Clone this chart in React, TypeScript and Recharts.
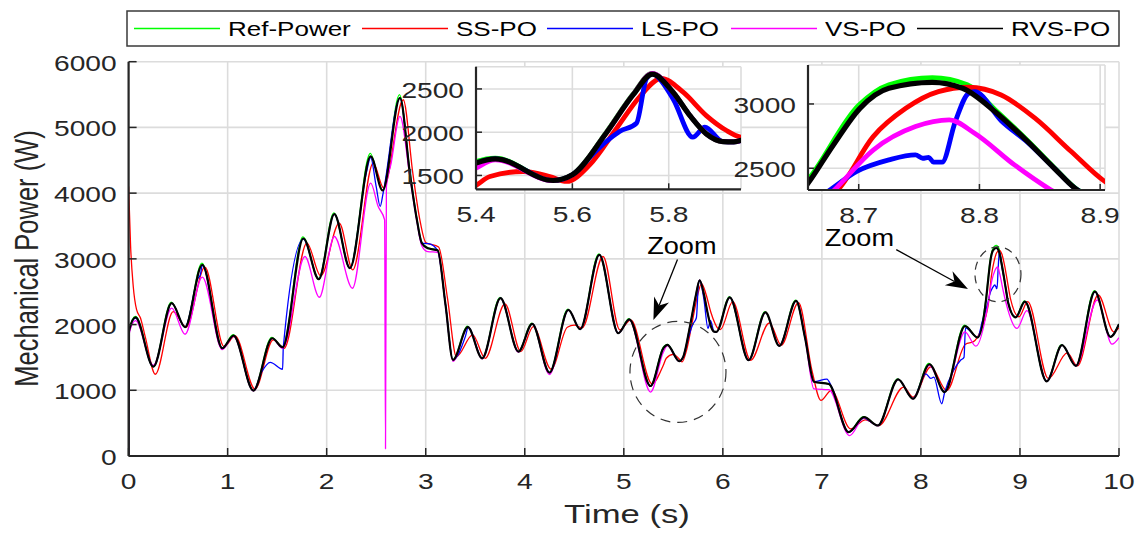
import React from "react";
import {
  LineChart,
  Line,
  XAxis,
  YAxis,
  CartesianGrid,
  ReferenceDot,
  ReferenceLine,
} from "recharts";

type Pt = [number, number];

// time (s), mechanical power (W)
const refPower: Pt[] = [
  [0, 0], [0.004, 1920], [0.07, 2125], [0.25, 1360], [0.43, 2340], [0.57, 1960], [0.74, 2935],
  [0.946, 1640], [1.055, 1845], [1.26, 995], [1.445, 1805], [1.555, 1660], [1.76, 3335], [1.92, 2700],
  [2.072, 3700], [2.235, 2860], [2.44, 4605], [2.565, 4050], [2.735, 5500], [2.84, 4330], [2.91, 3620],
  [2.96, 3250], [3.02, 3170], [3.12, 3135], [3.2, 2300], [3.275, 1462], [3.42, 1975], [3.57, 1487],
  [3.75, 2415], [3.936, 1589], [4.07, 2020], [4.25, 1269], [4.435, 2235], [4.56, 1929], [4.748, 3075],
  [4.944, 1868], [5.05, 2090], [5.27, 1065], [5.4, 1660], [5.44, 1700], [5.56, 1442], [5.6, 1510],
  [5.67, 1995], [5.726, 2440], [5.765, 2680], [5.809, 2462], [5.844, 2192], [5.878, 1981], [5.912, 1892],
  [5.935, 1888], [6.065, 2425], [6.26, 1457], [6.425, 2195], [6.57, 1676], [6.735, 2370], [6.83, 1800],
  [6.92, 1130], [7.07, 1095], [7.27, 362], [7.42, 600], [7.565, 464], [7.765, 1175], [7.92, 871],
  [8.08, 1410], [8.24, 973], [8.44, 1990], [8.573, 1803], [8.658, 2409], [8.7, 2990], [8.725, 3150],
  [8.761, 3205], [8.79, 3150], [8.813, 2955], [8.84, 2715], [8.862, 2505], [8.881, 2335], [8.956, 2109],
  [9.045, 2360], [9.27, 1136], [9.42, 1695], [9.565, 1370], [9.752, 2515], [9.913, 1814], [10, 2007],
];

const ssPo: Pt[] = [
  [0, 4100], [0.02, 3200], [0.047, 2580], [0.08, 2230], [0.12, 2100], [0.17, 1800], [0.27, 1244],
  [0.45, 2198], [0.58, 1959], [0.77, 2873], [0.963, 1665], [1.075, 1827], [1.276, 1020], [1.46, 1766],
  [1.57, 1640], [1.8, 3239], [1.94, 2741], [2.127, 3544], [2.263, 2832], [2.47, 4457], [2.575, 4080],
  [2.773, 5421], [2.87, 4300], [2.94, 3600], [3.0, 3250], [3.13, 3180], [3.22, 2400], [3.31, 1513],
  [3.474, 1843], [3.6, 1487], [3.8, 2315], [3.96, 1589], [4.086, 1970], [4.267, 1320], [4.43, 1960],
  [4.5, 1990], [4.58, 1950], [4.79, 3036], [4.96, 1919], [5.07, 2071], [5.285, 1100], [5.4, 1385],
  [5.429, 1488], [5.498, 1546], [5.553, 1488], [5.588, 1431], [5.636, 1623], [5.692, 2046], [5.74, 2412],
  [5.785, 2623], [5.83, 2462], [5.878, 2192], [5.92, 2019], [5.949, 1942], [5.975, 1925], [6.1, 2348],
  [6.28, 1457], [6.47, 2027], [6.59, 1686], [6.764, 2333], [6.9, 1300], [6.99, 846], [7.095, 998],
  [7.29, 413], [7.44, 550], [7.575, 464], [7.825, 1049], [7.92, 897], [8.1, 1355], [8.26, 998],
  [8.45, 1700], [8.53, 1740], [8.6, 1900], [8.684, 2345], [8.712, 2746], [8.739, 2966], [8.766, 3096],
  [8.791, 3130], [8.818, 3070], [8.846, 2889], [8.876, 2630], [8.904, 2396], [8.99, 2119], [9.078, 2348],
  [9.287, 1177], [9.478, 1569], [9.58, 1370], [9.79, 2450], [9.948, 1890], [10, 1950],
];

const lsPo: Pt[] = [
  [0, 0], [0.004, 1900], [0.07, 2100], [0.25, 1360], [0.435, 2325], [0.57, 1960], [0.7, 2700],
  [0.725, 2760], [0.744, 2905], [0.946, 1640], [1.06, 1832], [1.26, 995], [1.345, 1284], [1.43, 1426],
  [1.555, 1320], [1.562, 1655], [1.765, 3300], [1.92, 2690], [2.077, 3680], [2.235, 2858], [2.4, 4305],
  [2.444, 4540], [2.5, 4100], [2.54, 3800], [2.57, 4000], [2.74, 5450], [2.84, 4300], [2.91, 3600],
  [2.96, 3240], [3.03, 3230], [3.12, 3130], [3.2, 2300], [3.275, 1462], [3.4, 1817], [3.43, 1960],
  [3.57, 1487], [3.755, 2401], [3.936, 1589], [4.075, 2010], [4.25, 1269], [4.44, 2223], [4.56, 1929],
  [4.753, 3061], [4.944, 1868], [5.055, 2080], [5.27, 1065], [5.4, 1642], [5.44, 1692], [5.56, 1442],
  [5.6, 1508], [5.645, 1760], [5.67, 1890], [5.698, 2008], [5.733, 2104], [5.754, 2623], [5.766, 2672],
  [5.809, 2385], [5.85, 1942], [5.875, 2058], [5.912, 1892], [5.935, 1888], [6.07, 2415], [6.26, 1457],
  [6.43, 2185], [6.57, 1676], [6.74, 2359], [6.83, 1800], [6.92, 1130], [7.05, 1170], [7.1, 1050],
  [7.27, 362], [7.425, 575], [7.47, 540], [7.565, 464], [7.77, 1167], [7.92, 871], [8.05, 1250],
  [8.1, 1180], [8.13, 1200], [8.21, 795], [8.24, 973], [8.33, 1300], [8.4, 1457], [8.435, 1500],
  [8.45, 1950], [8.573, 1803], [8.62, 2050], [8.675, 2324], [8.698, 2474], [8.725, 2565], [8.747, 2604],
  [8.753, 2578], [8.758, 2585], [8.762, 2547], [8.769, 2547], [8.78, 2863], [8.791, 3083], [8.796, 3096],
  [8.818, 2870], [8.84, 2700], [8.862, 2500], [8.881, 2332], [8.956, 2109], [9.05, 2348], [9.27, 1136],
  [9.425, 1686], [9.565, 1370], [9.757, 2501], [9.913, 1814], [10, 2007],
];

const vsPo: Pt[] = [
  [0, 0], [0.004, 1850], [0.07, 2060], [0.25, 1380], [0.435, 2249], [0.57, 1853], [0.744, 2721],
  [0.946, 1620], [1.06, 1820], [1.26, 990], [1.45, 1790], [1.555, 1640], [1.78, 3036], [1.926, 2416],
  [2.077, 3340], [2.26, 2553], [2.444, 4152], [2.52, 3796], [2.585, 3594], [2.594, 110], [2.603, 4100],
  [2.65, 4450], [2.74, 5167], [2.84, 4250], [2.91, 3580], [2.96, 3200], [3.02, 3110], [3.12, 3100],
  [3.2, 2300], [3.275, 1440], [3.425, 1960], [3.57, 1480], [3.755, 2401], [3.936, 1580], [4.075, 2010],
  [4.25, 1240], [4.44, 2223], [4.56, 1929], [4.753, 3061], [4.944, 1868], [5.055, 2080], [5.27, 973],
  [5.4, 1585], [5.44, 1680], [5.56, 1440], [5.6, 1508], [5.67, 1990], [5.726, 2435], [5.766, 2680],
  [5.809, 2462], [5.844, 2192], [5.878, 1981], [5.912, 1892], [5.935, 1888], [6.07, 2415], [6.26, 1457],
  [6.43, 2185], [6.57, 1676], [6.74, 2359], [6.83, 1800], [6.92, 1020], [7.07, 1010], [7.28, 311],
  [7.425, 580], [7.565, 460], [7.77, 1167], [7.92, 871], [8.086, 1380], [8.24, 973], [8.445, 1890],
  [8.555, 1671], [8.679, 2324], [8.712, 2642], [8.747, 2824], [8.775, 2876], [8.796, 2772], [8.829, 2526],
  [8.859, 2332], [8.97, 1941], [9.07, 2211], [9.27, 1136], [9.425, 1686], [9.565, 1370], [9.78, 2374],
  [9.93, 1701], [10, 1800],
];

const rvsPo: Pt[] = [
  [0, 0], [0.004, 1900], [0.07, 2110], [0.25, 1360], [0.435, 2325], [0.57, 1960], [0.744, 2910],
  [0.946, 1640], [1.06, 1832], [1.26, 995], [1.45, 1792], [1.555, 1655], [1.765, 3310], [1.92, 2690],
  [2.077, 3680], [2.235, 2858], [2.444, 4560], [2.565, 4040], [2.74, 5450], [2.84, 4300], [2.91, 3600],
  [2.96, 3240], [3.02, 3160], [3.12, 3130], [3.2, 2300], [3.275, 1462], [3.425, 1960], [3.57, 1487],
  [3.755, 2401], [3.936, 1589], [4.075, 2010], [4.25, 1269], [4.44, 2223], [4.56, 1929], [4.753, 3061],
  [4.944, 1868], [5.055, 2080], [5.27, 1065], [5.4, 1642], [5.44, 1692], [5.56, 1442], [5.6, 1508],
  [5.67, 1988], [5.726, 2431], [5.766, 2672], [5.809, 2462], [5.844, 2192], [5.878, 1981], [5.912, 1892],
  [5.935, 1888], [6.07, 2415], [6.26, 1457], [6.43, 2185], [6.57, 1676], [6.74, 2359], [6.83, 1800],
  [6.92, 1130], [7.07, 1095], [7.27, 362], [7.425, 591], [7.565, 464], [7.77, 1167], [7.92, 871],
  [8.086, 1396], [8.24, 973], [8.445, 1977], [8.573, 1803], [8.658, 2383], [8.679, 2681], [8.701, 2966],
  [8.725, 3122], [8.761, 3168], [8.786, 3122], [8.813, 2940], [8.84, 2707], [8.862, 2500], [8.881, 2332],
  [8.956, 2109], [9.05, 2348], [9.27, 1136], [9.425, 1686], [9.565, 1370], [9.757, 2501], [9.913, 1814],
  [10, 2007],
];

const seriesNames = ["Ref-Power", "SS-PO", "LS-PO", "VS-PO", "RVS-PO"];
const seriesColors = ["#00ff00", "#ff0000", "#0000ff", "#ff00ff", "#000000"];

const timeTicks = [0, 1, 2, 3, 4, 5, 6, 7, 8, 9, 10];
const powerTicks = [0, 1000, 2000, 3000, 4000, 5000, 6000];
const zoomATimeTicks = [5.4, 5.6, 5.8];
const zoomAPowerTicks = [1500, 2000, 2500];
const zoomBTimeTicks = [8.7, 8.8, 8.9];
const zoomBPowerTicks = [2500, 3000];

// annotation anchors, in data units
const zoomNotes = [
  { t: 5.586, p: 3068 },
  { t: 7.378, p: 3195 },
];
const zoomArrows = [
  { from: { x: 5.542, y: 2991 }, to: { x: 5.299, y: 2071 } },
  { from: { x: 7.751, y: 3140 }, to: { x: 8.475, y: 2543 } },
];
const zoomCircles = [
  { t: 5.547, p: 1279, rx: 48, ry: 50.5 },
  { t: 8.778, p: 2764, rx: 23, ry: 27.5 },
];

const series = [refPower, ssPo, lsPo, vsPo, rvsPo].map((pts, i) => ({
  name: seriesNames[i],
  color: seriesColors[i],
  rows: pts.map(([t, p]) => ({ t, p })),
}));

const W = 1141;
const H = 536;
const INK = "#262626";
const FONT = "'Liberation Sans', Arial, Helvetica, sans-serif";
const SX = 1.28;

function SText({ x, y, anchor = "start", size = 22, sx = SX, fill = INK, children }: any) {
  return (
    <text
      transform={`translate(${x},${y}) scale(${sx},1)`}
      textAnchor={anchor}
      fontSize={size}
      fontFamily={FONT}
      fill={fill}
    >
      {children}
    </text>
  );
}

const xTick = (props: any) => (
  <SText x={props.x} y={props.y + 15.8} anchor="middle">
    {String(props.payload.value)}
  </SText>
);

const yTick = (props: any) => (
  <SText x={props.x} y={props.y + 9} anchor="end">
    {String(props.payload.value)}
  </SText>
);

const arrowShape = (props: any) => {
  const { x1, y1, x2, y2 } = props;
  const dx = x2 - x1;
  const dy = y2 - y1;
  const len = Math.hypot(dx, dy) || 1;
  const ux = dx / len;
  const uy = dy / len;
  const L = 22;
  const hw = 8;
  const bx = x2 - ux * L;
  const by = y2 - uy * L;
  const nx = x2 - ux * L * 0.7;
  const ny = y2 - uy * L * 0.7;
  const pts = `${x2},${y2} ${bx - uy * hw},${by + ux * hw} ${nx},${ny} ${bx + uy * hw},${by - ux * hw}`;
  return (
    <g>
      <line x1={x1} y1={y1} x2={nx} y2={ny} stroke="#000" strokeWidth={1.3} />
      <polygon points={pts} fill="#000" />
    </g>
  );
};

function Panel({
  width,
  height,
  margin,
  yWidth,
  xHeight,
  xDomain,
  yDomain,
  xTicks,
  yTicks,
  tickLen,
  lineWidth,
  blackWidth,
  children,
}: any) {
  return (
    <LineChart width={width} height={height} margin={margin}>
      <CartesianGrid stroke="#dcdcdc" strokeWidth={1.6} fill="#ffffff" fillOpacity={1} />
      <XAxis
        dataKey="t"
        type="number"
        domain={xDomain}
        ticks={xTicks}
        interval={0}
        allowDataOverflow
        height={xHeight}
        tickSize={-tickLen}
        tickMargin={tickLen + 17}
        tick={xTick}
        axisLine={{ stroke: INK, strokeWidth: 2.2 }}
        tickLine={{ stroke: INK, strokeWidth: 1.5 }}
      />
      <XAxis
        xAxisId="top"
        orientation="top"
        dataKey="t"
        type="number"
        domain={xDomain}
        ticks={xTicks}
        interval={0}
        allowDataOverflow
        height={0}
        tickSize={-tickLen}
        tick={false}
        axisLine={{ stroke: INK, strokeWidth: 2.2 }}
        tickLine={{ stroke: INK, strokeWidth: 1.5 }}
      />
      <YAxis
        type="number"
        domain={yDomain}
        ticks={yTicks}
        interval={0}
        allowDataOverflow
        width={yWidth}
        tickSize={-tickLen}
        tickMargin={tickLen + 12}
        tick={yTick}
        axisLine={{ stroke: INK, strokeWidth: 2.2 }}
        tickLine={{ stroke: INK, strokeWidth: 1.5 }}
      />
      <YAxis
        yAxisId="right"
        orientation="right"
        type="number"
        domain={yDomain}
        ticks={yTicks}
        interval={0}
        allowDataOverflow
        width={0}
        tickSize={-tickLen}
        tick={false}
        axisLine={{ stroke: INK, strokeWidth: 2.2 }}
        tickLine={{ stroke: INK, strokeWidth: 1.5 }}
      />
      {series.map((s) => (
        <Line
          key={s.name}
          name={s.name}
          data={s.rows}
          dataKey="p"
          type="monotone"
          stroke={s.color}
          strokeWidth={s.name === "RVS-PO" ? blackWidth : lineWidth}
          strokeLinejoin="round"
          dot={false}
          activeDot={false}
          isAnimationActive={false}
        />
      ))}
      {children}
    </LineChart>
  );
}

export default function App() {
  return (
    <div
      style={{
        position: "absolute",
        left: 0,
        top: 0,
        width: W,
        height: H,
        background: "#ffffff",
        overflow: "hidden",
      }}
    >
      <div style={{ position: "absolute", left: 0, top: 0 }}>
        <Panel
          width={W}
          height={H}
          margin={{ top: 61.7, right: 22, bottom: 0, left: 0 }}
          yWidth={128.6}
          xHeight={80}
          xDomain={[0, 10]}
          yDomain={[0, 6000]}
          xTicks={timeTicks}
          yTicks={powerTicks}
          tickLen={8}
          lineWidth={1.3}
          blackWidth={2.2}
        >
          {zoomCircles.map((c, i) => (
            <ReferenceDot
              key={`c${i}`}
              x={c.t}
              y={c.p}
              r={c.rx}
              ifOverflow="visible"
              shape={(p: any) => (
                <ellipse
                  cx={p.cx}
                  cy={p.cy}
                  rx={c.rx}
                  ry={c.ry}
                  fill="none"
                  stroke="#333"
                  strokeWidth={1.2}
                  strokeDasharray={i === 0 ? "10 7" : "8 6"}
                />
              )}
            />
          ))}
          {zoomArrows.map((a, i) => (
            <ReferenceLine
              key={`a${i}`}
              segment={[a.from, a.to]}
              ifOverflow="visible"
              stroke="#000"
              shape={arrowShape}
            />
          ))}
          {zoomNotes.map((n, i) => (
            <ReferenceDot
              key={`n${i}`}
              x={n.t}
              y={n.p}
              r={1}
              ifOverflow="visible"
              shape={(p: any) => (
                <SText x={p.cx} y={p.cy} anchor="middle" size={23} sx={1.18} fill="#000">
                  Zoom
                </SText>
              )}
            />
          ))}
        </Panel>
      </div>

      <div style={{ position: "absolute", left: 390, top: 56 }}>
        <Panel
          width={360}
          height={180}
          margin={{ top: 10.7, right: 9, bottom: 0, left: 0 }}
          yWidth={86}
          xHeight={46.7}
          xDomain={[5.4, 5.95]}
          yDomain={[1340, 2757]}
          xTicks={zoomATimeTicks}
          yTicks={zoomAPowerTicks}
          tickLen={6}
          lineWidth={4.8}
          blackWidth={5.2}
        />
      </div>

      <div style={{ position: "absolute", left: 720, top: 55 }}>
        <Panel
          width={400}
          height={180}
          margin={{ top: 10, right: 15, bottom: 0, left: 0 }}
          yWidth={88}
          xHeight={45}
          xDomain={[8.658, 8.904]}
          yDomain={[2331, 3303]}
          xTicks={zoomBTimeTicks}
          yTicks={zoomBPowerTicks}
          tickLen={6}
          lineWidth={4.8}
          blackWidth={5.2}
        />
      </div>

      <svg
        width={W}
        height={H}
        style={{ position: "absolute", left: 0, top: 0, pointerEvents: "none" }}
      >
        <rect x={127} y={11} width={992} height={35} fill="#ffffff" stroke="#3a3a3a" strokeWidth={1.5} />
        {series.map((s, i) => {
          const lx = [134, 362, 547, 731, 917][i];
          return (
            <g key={s.name}>
              <line x1={lx} x2={lx + 86} y1={28.5} y2={28.5} stroke={s.color} strokeWidth={1.6} />
              <SText x={lx + 94} y={36} size={20} sx={1.3} fill="#000">
                {s.name}
              </SText>
            </g>
          );
        })}
        <text
          transform="translate(38.3,258.5) scale(1.28,1) rotate(-90)"
          textAnchor="middle"
          fontSize={25.5}
          fontFamily={FONT}
          fill={INK}
        >
          Mechanical Power (W)
        </text>
        <SText x={627} y={523} anchor="middle" size={25.5} sx={1.36}>
          Time (s)
        </SText>
      </svg>
    </div>
  );
}
